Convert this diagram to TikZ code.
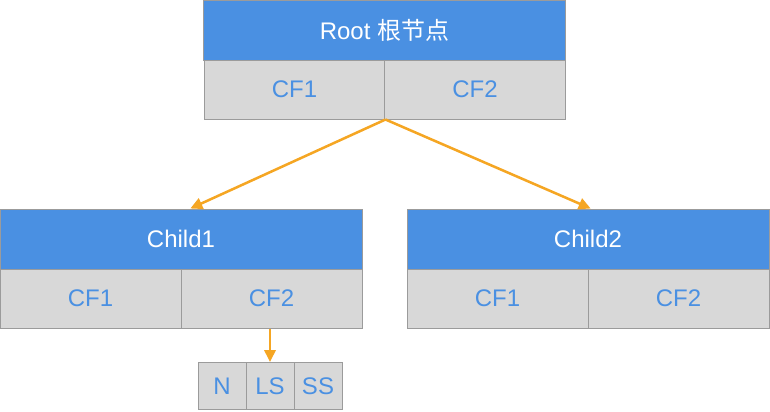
\documentclass[tikz,border=0pt]{standalone}
\usepackage{fontspec}
\setmainfont{Liberation Sans}
\newfontfamily\cjk{Noto Sans CJK SC}
\usetikzlibrary{arrows.meta}

\definecolor{headblue}{RGB}{74,144,226}
\definecolor{cellgray}{RGB}{216,216,216}
\definecolor{edgegray}{RGB}{155,155,155}
\definecolor{arrorange}{RGB}{245,166,35}

\tikzset{
  head/.style={draw=edgegray, line width=0.75pt, fill=headblue, text=white,
    minimum width=271.5pt, minimum height=45pt, inner sep=0pt,
    font=\fontsize{18}{20}\selectfont},
  cell/.style={draw=edgegray, line width=0.75pt, fill=cellgray, text=headblue,
    minimum width=135.75pt, minimum height=44.25pt, inner sep=0pt,
    font=\fontsize{18}{20}\selectfont},
  tiny/.style={cell, minimum width=36pt, minimum height=35.25pt},
  link/.style={draw=arrorange, line width=1.9pt,
    -{Triangle[length=9pt,width=8.5pt]}}
}

\begin{document}
\begin{tikzpicture}[x=0.75pt,y=0.75pt,yscale=-1,xscale=1]
\useasboundingbox (0,0) rectangle (770,411);

% root
\node [head] (root) at (384.5,30) {Root {\cjk 根节点}};
\node [cell] (rcf1) at (294.5,89.5) {CF1};
\node [cell] (rcf2) at (475,89.5) {CF2};

% first child
\node [head] (c1) at (181,239) {Child1};
\node [cell] (c1cf1) at (90.5,298.5) {CF1};
\node [cell] (c1cf2) at (271.5,298.5) {CF2};

% second child
\node [head] (c2) at (588,239) {Child2};
\node [cell] (c2cf1) at (497.5,298.5) {CF1};
\node [cell] (c2cf2) at (678.5,298.5) {CF2};

% cells under CF2
\node [tiny] (n) at (222,386) {N};
\node [tiny] (ls) at (270,386) {LS};
\node [tiny] (ss) at (318,386) {SS};

% links
\draw [link] (rcf1.south east) -- ([xshift=7pt]c1.north);
\draw [link] (rcf1.south east) -- ([xshift=2pt]c2.north);
\draw [link] (ls.north |- c1cf2.south) -- (ls.north);

\end{tikzpicture}
\end{document}
